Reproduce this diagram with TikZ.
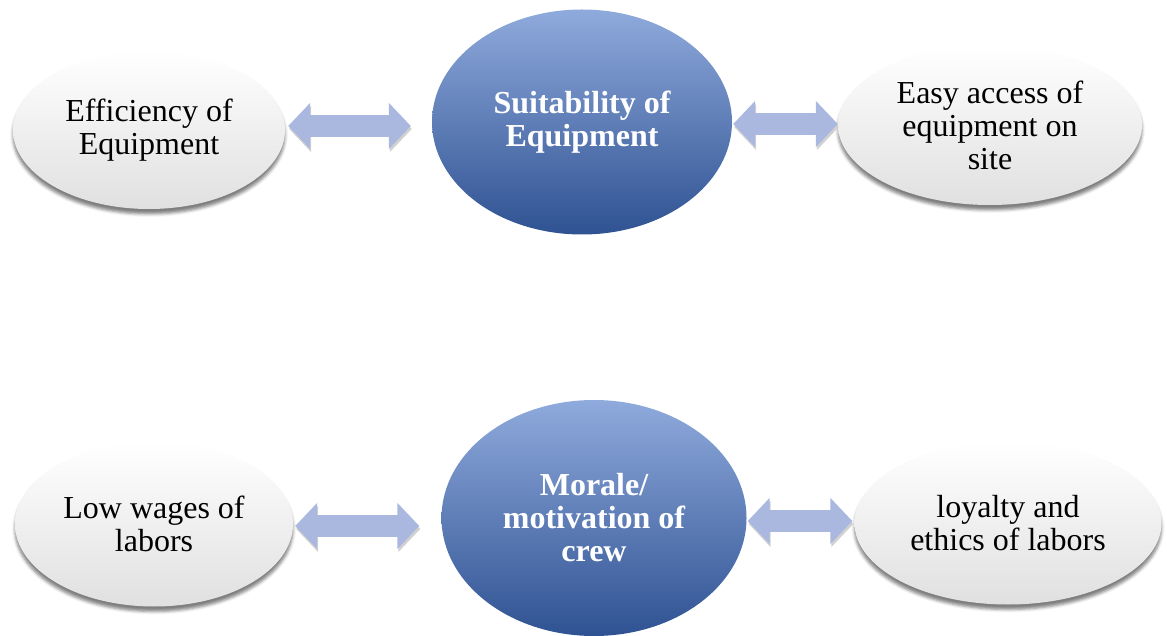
\documentclass[tikz,border=0pt]{standalone}
\usepackage{fontspec}
\setmainfont{Liberation Serif}
\usetikzlibrary{shapes.geometric,arrows.meta,calc,shadows.blur}

\definecolor{bluetop}{HTML}{8FAADC}
\definecolor{bluemid}{HTML}{4872C4}
\definecolor{bluebot}{HTML}{2F5292}
\definecolor{arrowfill}{HTML}{AAB8E0}
\definecolor{softgray}{HTML}{E0E0E0}
\definecolor{paleband}{HTML}{F7F7F7}

\tikzset{
  labeltext/.style={font=\fontsize{32}{33}\selectfont, align=center},
  factor/.style={ellipse, inner sep=0pt, labeltext, text=black,
    top color=white, middle color=paleband, bottom color=softgray,
    blur shadow={shadow xshift=0pt, shadow yshift=-5pt,
                 shadow blur radius=3pt, shadow opacity=50}},
  hub/.style={ellipse, inner sep=0pt, labeltext, text=white,
    font=\fontsize{32}{33}\selectfont\bfseries,
    top color=bluetop, middle color=bluemid, bottom color=bluebot},
  link/.style={line width=22pt, draw=arrowfill,
    {Triangle[width=45pt,length=22pt]}-{Triangle[width=45pt,length=22pt]},
    preaction={draw=black!18,
      transform canvas={shift={(1pt,-3pt)}}}}
}

\begin{document}
\begin{tikzpicture}[x=1pt,y=1pt]
\useasboundingbox (0,0) rectangle (1167,635);

% top row: equipment
\node[factor, minimum width=272, minimum height=158] (eff) at (149,505)
  {Efficiency of\\Equipment};
\node[hub, minimum width=300, minimum height=225] (suit) at (582,513)
  {Suitability of\\Equipment};
\node[factor, minimum width=304, minimum height=160] (easy) at (990,510)
  {Easy access of\\equipment on\\site};

% bottom row: crew
\node[factor, minimum width=278, minimum height=165] (low) at (154,111)
  {Low wages of\\labors};
\node[hub, minimum width=305, minimum height=236] (mor) at (594,117)
  {Morale/\\motivation of\\crew};
\node[factor, minimum width=307, minimum height=163] (loy) at (1008,112)
  {loyalty and\\ethics of labors};

% two-way links
\draw[link] ($(eff.east)+(3,4)$) -- ($(suit.west)+(-21,-4)$);
\draw[link] ($(suit.east)+(1,-2)$) -- ($(easy.west)+(0,1)$);
\draw[link] ($(low.east)+(2,-2)$) -- ($(mor.west)+(-22,-8)$);
\draw[link] ($(mor.east)+(1,-3)$) -- ($(loy.west)+(-2,2)$);
\end{tikzpicture}
\end{document}
